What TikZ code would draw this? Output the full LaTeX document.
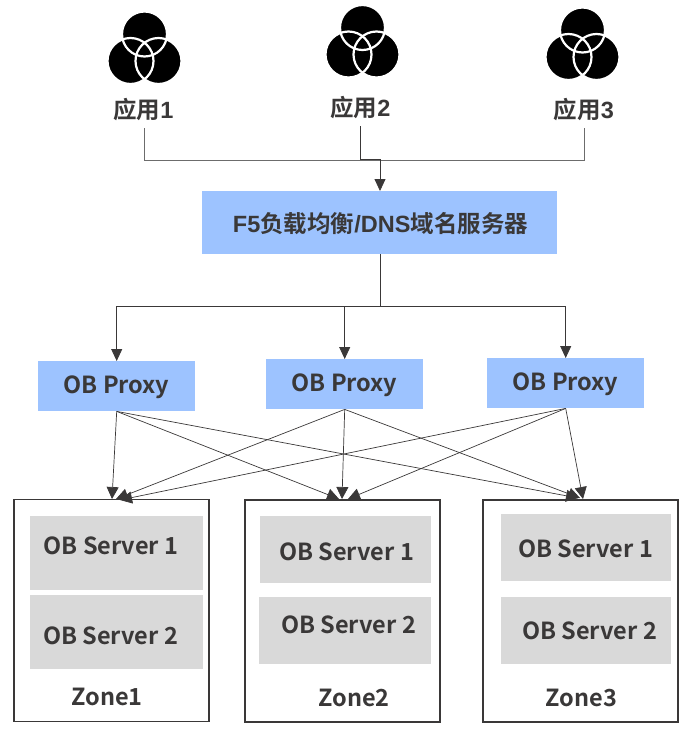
\documentclass[tikz,border=0pt]{standalone}
\usepackage{fontspec}
\setmainfont{Noto Sans CJK SC}[BoldFont={Noto Sans CJK SC Bold}]
\newfontfamily\digitfont{Liberation Sans}
\usetikzlibrary{arrows.meta,calc}
\definecolor{inkc}{HTML}{3A3838}
\definecolor{bluec}{HTML}{9DC3FF}
\definecolor{grayc}{HTML}{D9D9D9}
\tikzset{
  x=1pt,y=-1pt,
  blue box/.style={draw=none,fill=bluec,inner sep=0,anchor=north west},
  gray box/.style={draw=none,fill=grayc,inner sep=0,anchor=north west},
  zone box/.style={draw=inkc,line width=1.8pt,fill=white,inner sep=0,outer sep=0,anchor=north west},
  label text/.style={text=inkc,font=\fontsize{23.5}{28}\selectfont\bfseries,inner sep=0},
  link/.style={draw=inkc,line width=0.8pt},
  arrow link/.style={link,-{Triangle[length=12pt,width=11pt]}},
  cross link/.style={draw=inkc,line width=0.7pt,-{Triangle[length=12pt,width=12pt]}},
  venn/.pic={
    \fill[black] (0,-27) circle[radius=22.5];
    \fill[black] (-14,0) circle[radius=23];
    \fill[black] (14,0) circle[radius=23];
    \draw[white,line width=2.2pt] (0,-27) circle[radius=22.5];
    \draw[white,line width=2.2pt] (-14,0) circle[radius=23];
    \draw[white,line width=2.2pt] (14,0) circle[radius=23];
  }
}
\begin{document}
\begin{tikzpicture}
\useasboundingbox (0,0) rectangle (696,739);
% icons
\pic at (144.5,61) {venn};
\pic at (362.5,54.5) {venn};
\pic at (582.5,57) {venn};
% app labels
\node[label text] (a1) at (143.5,110) {应用\digitfont 1};
\node[label text] (a2) at (360.5,108) {应用\digitfont 2};
\node[label text] (a3) at (584,110) {应用\digitfont 3};
% F5
\node[blue box,minimum width=355,minimum height=63] (f5) at (202,191) {};
\node[label text] (f5t) at (380.5,224) {\digitfont\bfseries F5\rmfamily\bfseries 负载均衡\digitfont\bfseries /DNS\rmfamily\bfseries 域名服务器};
% proxies
\node[blue box,minimum width=157,minimum height=50] (p1) at (38,361) {};
\node[blue box,minimum width=157,minimum height=50] (p2) at (266,359) {};
\node[blue box,minimum width=157,minimum height=50] (p3) at (487,358) {};
\node[label text] (p1t) at (116.5,387) {OB Proxy};
\node[label text] (p2t) at (344.5,385) {OB Proxy};
\node[label text] (p3t) at (565.5,384) {OB Proxy};
% zones
\node[zone box,minimum width=195,minimum height=222] (z1) at (14,499.5) {};
\node[zone box,minimum width=195,minimum height=222] (z2) at (245,500) {};
\node[zone box,minimum width=195,minimum height=222] (z3) at (483,500) {};
\node[gray box,minimum width=173,minimum height=74] (s11) at (30,516) {};
\node[gray box,minimum width=173,minimum height=74] (s12) at (30,595) {};
\node[gray box,minimum width=171,minimum height=67] (s21) at (260,516) {};
\node[gray box,minimum width=172,minimum height=67] (s22) at (259,597) {};
\node[gray box,minimum width=170,minimum height=67] (s31) at (501,514) {};
\node[gray box,minimum width=170,minimum height=67] (s32) at (501,597) {};
\node[label text] (t11) at (111,546) {OB Server 1};
\node[label text] (t12) at (110.5,636) {OB Server 2};
\node[label text] (t21) at (346.5,552) {OB Server 1};
\node[label text] (t22) at (348.5,625) {OB Server 2};
\node[label text] (t31) at (585.5,549) {OB Server 1};
\node[label text] (t32) at (589.5,631) {OB Server 2};
\node[label text] (l1) at (107,697) {Zone1};
\node[label text] (l2) at (354,698) {Zone2};
\node[label text] (l3) at (581.5,698) {Zone3};
% connector points
\coordinate (a1b) at (144,128);
\coordinate (a2b) at (360.5,126);
\coordinate (a3b) at (584,128);
\coordinate (f5top) at (380,191);
\coordinate (f5b) at (380,254);
\coordinate (z1a) at (112,499);
\coordinate (z1b) at (116,499);
\coordinate (z1c) at (120,500);
\coordinate (z2a) at (339,499);
\coordinate (z2b) at (342,499);
\coordinate (z2c) at (348,499);
\coordinate (z3a) at (578,498);
\coordinate (z3b) at (580,498);
\coordinate (z3c) at (583,499);
% top connectors
\draw[link,draw=gray!85!black] (a1b) |- (a3b |- 0,160) -- (a3b);
\draw[arrow link] (a2b) |- (380,159) -- (f5top);
\draw[arrow link] (f5b) -- (380,306) -| (p1.north);
\draw[arrow link] (380,306) -| (p2.north);
\draw[arrow link] (380,306) -| (p3.north);
% crossing connectors
\foreach \s/\t in {p1/z1a,p1/z2a,p1/z3a,p2/z1b,p2/z2b,p2/z3b,p3/z1c,p3/z2c,p3/z3c}
  \draw[cross link] (\s.south) -- (\t);
\end{tikzpicture}
\end{document}
